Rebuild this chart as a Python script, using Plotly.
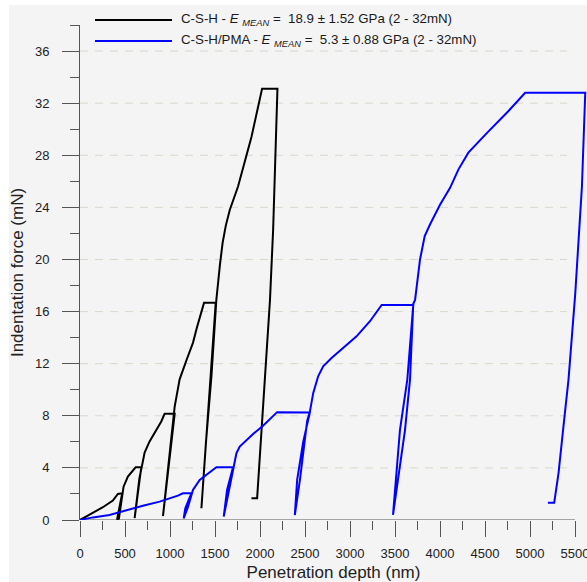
import plotly.graph_objects as go

# ---------------- data ----------------
# C-S-H : cyclic indentation, penetration depth (nm) / force (mN)
csh_depth = [0, 69, 161, 254, 365, 421, 469, 412,
             432, 484, 532, 570, 618, 681, 607,
             625, 660, 690, 718, 773, 848, 903, 940, 1052, 922,
             960, 1010, 1052, 1107, 1190, 1255, 1300, 1378, 1508, 1349,
             1400, 1460, 1515, 1555, 1585, 1620, 1664, 1756, 1867, 1905, 2023, 2194,
             2180, 2146, 2111, 2040, 1968, 1905]
csh_force = [0, 0.26, 0.64, 0.98, 1.49, 2.0, 2.05, 0.05,
             0.1, 2.56, 3.33, 3.67, 4.05, 4.06, 0.15,
             1.5, 3.2, 4.2, 5.18, 6.03, 6.92, 7.56, 8.15, 8.15, 0.3,
             3.0, 6.0, 8.7, 10.8, 12.4, 13.6, 14.8, 16.67, 16.67, 0.9,
             6.0, 11.0, 16.9, 19.6, 21.3, 22.6, 23.8, 25.6, 28.3, 29.4, 33.1, 33.1,
             30.0, 22.3, 16.9, 9.0, 1.67, 1.67]

# C-S-H/PMA
pma_depth = [0, 143, 328, 588, 699, 885, 1015, 1088, 1144, 1237, 1170, 1152,
             1200, 1255, 1330, 1404, 1515, 1700, 1634, 1597,
             1656, 1700, 1738, 1775, 1850, 1923, 2034, 2190, 2554, 2480, 2413, 2387,
             2444, 2524, 2554, 2591, 2646, 2702, 2795, 2943, 3073, 3222, 3352, 3703,
             3637, 3555, 3478,
             3611, 3667, 3703, 3723, 3778, 3830, 3890, 4000, 4112, 4204, 4315, 4446,
             4520, 4761, 4946, 5614, 5577, 5503, 5428, 5372, 5317, 5269, 5199]
pma_force = [0, 0.2, 0.38, 0.9, 1.1, 1.41, 1.67, 1.87, 2.05, 2.05, 0.9, 0.13,
             1.0, 2.3, 3.08, 3.46, 4.05, 4.05, 2.3, 0.26,
             2.3, 4.1, 5.13, 5.64, 6.15, 6.6, 7.23, 8.28, 8.26, 6.0, 3.1, 0.38,
             3.1, 7.6, 8.3, 9.74, 11.03, 11.8, 12.44, 13.33, 14.1, 15.26, 16.51, 16.51,
             10.8, 6.9, 0.4,
             6.9, 10.8, 16.6, 16.9, 20.0, 21.8, 22.7, 24.2, 25.5, 26.9, 28.2, 29.2,
             29.7, 31.4, 32.8, 32.8, 25.6, 17.4, 10.8, 7.2, 3.6, 1.33, 1.33]

series_names = [
    "C-S-H - <i>E</i> <sub><i>MEAN</i></sub> =  18.9 ± 1.52 GPa (2 - 32mN)",
    "C-S-H/PMA - <i>E</i> <sub><i>MEAN</i></sub> =  5.3 ± 0.88 GPa (2 - 32mN)",
]
series_colors = ["#000000", "#0000ff"]

x_tick_vals = list(range(0, 5501, 500))
y_tick_vals = list(range(0, 37, 4))
grid_levels = list(range(4, 37, 4))

# ---------------- figure ----------------
FONT = "Liberation Sans, Arial, sans-serif"
BG = "#f4f4f4"
AX = "#555555"

fig = go.Figure()
fig.add_trace(go.Scatter(x=csh_depth, y=csh_force, mode="lines",
                         line=dict(color=series_colors[0], width=2),
                         showlegend=False, name="C-S-H"))
fig.add_trace(go.Scatter(x=pma_depth, y=pma_force, mode="lines",
                         line=dict(color=series_colors[1], width=2),
                         showlegend=False, name="C-S-H/PMA"))

W, H = 587, 582
ML, MR, MT, MB = 80, 0, 25, 62
pw = W - ML - MR
ph = H - MT - MB
x_max = 5500 * pw / (575 - ML)


def px_x(px):
    return (px - ML) / pw


def px_y(py):
    return (H - MB - py) / ph


shapes = []
# grey panel with white band at left / top
shapes.append(dict(type="rect", xref="paper", yref="paper",
                   x0=px_x(9), x1=px_x(W + 5), y0=px_y(H + 5), y1=px_y(5),
                   fillcolor=BG, line=dict(width=0), layer="below"))
# dashed horizontal grid lines
for g in grid_levels:
    shapes.append(dict(type="line", xref="x", yref="y", x0=0, x1=5410, y0=g, y1=g,
                       line=dict(color="#d8d8ca", width=1, dash="8px,7px"), layer="below"))
# x axis line (ends at 5500)
shapes.append(dict(type="line", xref="x", yref="y", x0=0, x1=5500, y0=0, y1=0,
                   line=dict(color=AX, width=1), layer="below"))

# manual legend with long line samples
annotations = []
for i, (nm, col) in enumerate(zip(series_names, series_colors)):
    yy = px_y(20 + 21 * i)
    shapes.append(dict(type="line", xref="paper", yref="paper",
                       x0=px_x(95), x1=px_x(172), y0=yy, y1=yy,
                       line=dict(color=col, width=2)))
    annotations.append(dict(xref="paper", yref="paper", x=px_x(179), y=yy,
                            xanchor="left", yanchor="middle", showarrow=False,
                            text=nm, font=dict(family=FONT, size=13.3, color="#1a1a1a")))

fig.update_layout(
    width=W, height=H,
    margin=dict(l=ML, r=MR, t=MT, b=MB, pad=0),
    paper_bgcolor="white", plot_bgcolor=BG,
    font=dict(family=FONT, size=13, color="#222222"),
    shapes=shapes, annotations=annotations,
    showlegend=False,
)
fig.update_xaxes(
    range=[0, x_max], tickvals=x_tick_vals, ticktext=[str(v) for v in x_tick_vals],
    showgrid=False, zeroline=False, showline=False,
    ticks="outside", ticklen=16, tickcolor=AX, tickwidth=1,
    ticklabelstandoff=5, ticklabeloverflow="allow",
    tickfont=dict(family=FONT, size=13, color="#222222"),
    minor=dict(dtick=250, tick0=0, ticks="outside", ticklen=9, tickcolor=AX, showgrid=False),
    title=dict(text="Penetration depth (nm)", font=dict(family=FONT, size=17, color="#222222"),
               standoff=6),
    automargin=False,
)
fig.update_yaxes(
    range=[0, 38], tickvals=y_tick_vals, ticktext=[str(v) for v in y_tick_vals],
    showgrid=False, zeroline=False, showline=True, linecolor=AX, linewidth=1,
    ticks="outside", ticklen=17, tickcolor=AX, tickwidth=1,
    ticklabelstandoff=10, ticklabeloverflow="allow",
    tickfont=dict(family=FONT, size=13, color="#222222"),
    minor=dict(dtick=2, tick0=0, ticks="outside", ticklen=9, tickcolor=AX, showgrid=False),
    title=dict(text="Indentation force (mN)", font=dict(family=FONT, size=17, color="#222222"),
               standoff=6),
    automargin=False,
)

fig.write_html("out.html",
               config={"displayModeBar": False},
               post_script="document.body.style.margin='0';document.body.style.overflow='hidden';")
